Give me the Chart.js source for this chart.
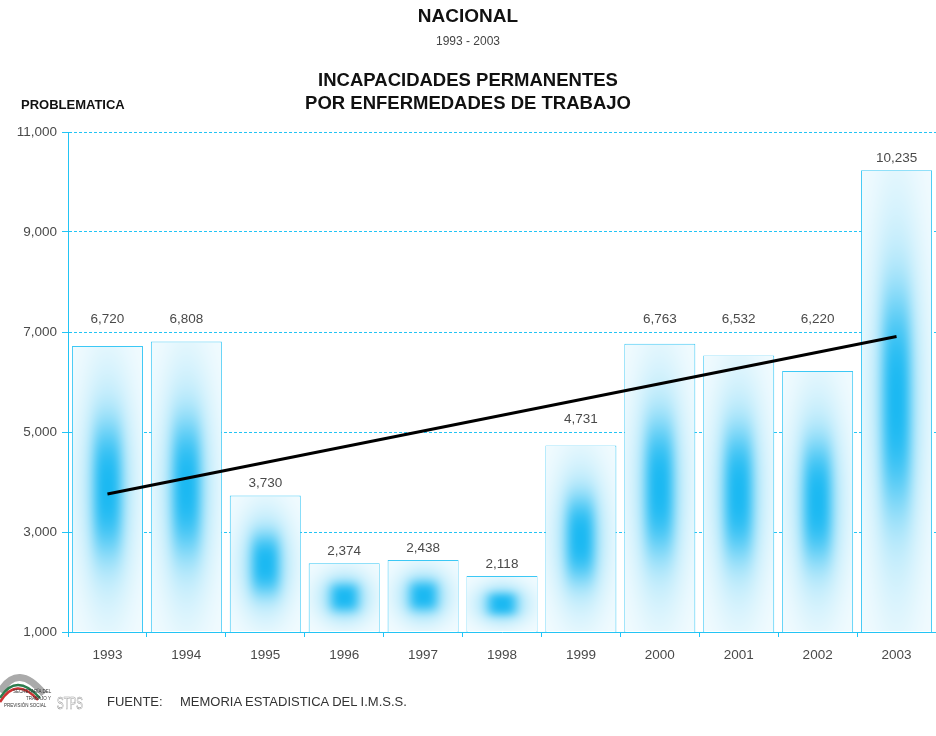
<!DOCTYPE html>
<html>
<head>
<meta charset="utf-8">
<script src="https://cdn.jsdelivr.net/npm/chart.js@4"></script>
<style>
  html, body { margin: 0; padding: 0; background: #fff; }
  body { width: 936px; height: 736px; position: relative; overflow: hidden; font-family: "Liberation Sans", Arial, sans-serif; }
  #c { position: absolute; left: 0; top: 0; }
  .t { position: absolute; white-space: nowrap; line-height: 1; }
</style>
</head>
<body>
<canvas id="c" width="936" height="736"></canvas>
<div class="t" style="left:0;width:936px;text-align:center;top:6px;font-size:19px;font-weight:bold;color:#111;">NACIONAL</div>
<div class="t" style="left:0;width:936px;text-align:center;top:35px;font-size:12px;color:#444;">1993 - 2003</div>
<div class="t" style="left:0;width:936px;text-align:center;top:68px;font-size:18.5px;font-weight:bold;color:#111;line-height:23px;">INCAPACIDADES PERMANENTES<br>POR ENFERMEDADES DE TRABAJO</div>
<div class="t" style="left:21px;top:98px;font-size:13px;font-weight:bold;color:#111;">PROBLEMATICA</div>
<div class="t" style="left:107px;top:695px;font-size:13px;color:#333;">FUENTE:</div>
<div class="t" style="left:180px;top:695px;font-size:13px;color:#333;">MEMORIA ESTADISTICA DEL I.M.S.S.</div>
<svg style="position:absolute;left:0;top:662px" width="90" height="74" viewBox="0 0 90 74">
  <path d="M0 30 Q18 0 44 32" stroke="#aaa" stroke-width="7" fill="none"/>
  <path d="M0 36 Q16 10 40 36" stroke="#2e7d4f" stroke-width="2.5" fill="none"/>
  <path d="M0 40 Q16 14 38 38" stroke="#c33" stroke-width="2.5" fill="none"/>
  <text x="13" y="31" font-size="4.5" fill="#333" font-family="Liberation Sans">SECRETARÍA DEL</text>
  <text x="26" y="38" font-size="4.5" fill="#333" font-family="Liberation Sans">TRABAJO Y</text>
  <text x="4" y="45" font-size="4.5" fill="#333" font-family="Liberation Sans">PREVISIÓN SOCIAL</text>
  <text x="57" y="47" font-size="17" fill="none" stroke="#999" stroke-width="0.6" font-family="Liberation Sans" textLength="26" lengthAdjust="spacingAndGlyphs">STPS</text>
</svg>
<script>
const years = ['1993','1994','1995','1996','1997','1998','1999','2000','2001','2002','2003'];
const values = [6720, 6808, 3730, 2374, 2438, 2118, 4731, 6763, 6532, 6220, 10235];
const trendYears = ['1993', '2003'];
const trendValues = [3760, 6910];
const yTicks = [1000, 3000, 5000, 7000, 9000, 11000];

const CYAN = '#22c4f5';
const fmt = v => v.toLocaleString('en-US');

const barFill = {
  id: 'barFill',
  afterDatasetDraw(chart, args) {
    if (args.index !== 0) return;
    const ctx = chart.ctx;
    const area = chart.chartArea;
    const wide = u => Math.exp(-(u / 0.75) * (u / 0.75));
    const core = u => Math.exp(-Math.pow(u / 0.45, 3));
    args.meta.data.forEach(el => {
      const l = Math.round(el.x - el.width / 2) + 1;
      const r = Math.round(el.x + el.width / 2) - 1;
      const t = Math.round(Math.min(el.y, el.base)) + 1;
      const b = Math.round(Math.min(Math.max(el.y, el.base), area.bottom)) - 1;
      const w = r - l, h = b - t;
      if (w <= 0 || h <= 0) return;
      const img = ctx.getImageData(l, t, w, h);
      const hw = w / 2, hh = h / 2;
      for (let j = 0; j < h; j++) {
        const uy = Math.abs(j + 0.5 - hh) / hh;
        const wy = wide(uy), cy = core(uy);
        for (let i = 0; i < w; i++) {
          const ux = Math.abs(i + 0.5 - hw) / hw;
          const a = Math.min(1, 0.05 + 0.45 * wide(ux) * wy + 0.5 * core(ux) * cy);
          const k = (j * w + i) * 4;
          img.data[k] = Math.round(255 - a * (255 - 28));
          img.data[k + 1] = Math.round(255 - a * (255 - 185));
          img.data[k + 2] = Math.round(255 - a * (255 - 242));
          img.data[k + 3] = 255;
        }
      }
      ctx.putImageData(img, l, t);
    });
  },
  afterDatasetsDraw(chart) {
    const ctx = chart.ctx;
    const ys = chart.scales.y;
    const area = chart.chartArea;
    const meta = chart.getDatasetMeta(0);
    ctx.save();
    ctx.font = '13.5px "Liberation Sans", Arial, sans-serif';
    ctx.fillStyle = '#4a4a4a';
    ctx.textAlign = 'center';
    ctx.textBaseline = 'middle';
    meta.data.forEach((el, i) => {
      const v = values[i];
      const top = el.y;
      let ly = top - 12;
      if (v > 4000) {
        yTicks.forEach(gv => {
          const gp = ys.getPixelForValue(gv);
          const dist = top - gp;
          if (dist >= 0 && dist <= 40 && gp - 13 > area.top) ly = gp - 13;
        });
      }
      ctx.fillText(fmt(v), el.x, ly);
    });
    ctx.restore();
  }
};

new Chart(document.getElementById('c'), {
  data: {
    labels: years,
    datasets: [
      {
        type: 'bar',
        data: values,
        backgroundColor: '#ffffff',
        borderColor: '#3cc8f5',
        borderWidth: 1,
        barPercentage: 0.9,
        categoryPercentage: 1.0,
        order: 1
      },
      {
        type: 'line',
        data: trendYears.map((y, i) => ({ x: y, y: trendValues[i] })),
        borderColor: '#000',
        borderWidth: 3,
        pointRadius: 0,
        fill: false,
        order: 0
      }
    ]
  },
  options: {
    responsive: false,
    animation: false,
    events: [],
    layout: { padding: { top: 132, right: 0, bottom: 0, left: 0 } },
    plugins: { legend: { display: false }, tooltip: { enabled: false }, title: { display: false } },
    scales: {
      x: {
        offset: true,
        grid: { display: true, drawOnChartArea: false, drawTicks: true, tickLength: 5, color: CYAN, offset: true },
        border: { display: true, color: CYAN, dash: [3, 2] },
        ticks: { color: '#4a4a4a', font: { family: '"Liberation Sans", Arial, sans-serif', size: 13.5 }, padding: 10, maxRotation: 0 },
        afterFit: s => { s.height = 104; }
      },
      y: {
        min: 1000,
        max: 11000,
        afterBuildTicks: s => { s.ticks = yTicks.map(v => ({ value: v })); },
        grid: { color: CYAN, lineWidth: 1, tickLength: 6 },
        border: { display: true, color: CYAN, dash: [3, 2] },
        ticks: { color: '#4a4a4a', font: { family: '"Liberation Sans", Arial, sans-serif', size: 13.5 }, padding: 5, callback: v => fmt(v) },
        afterFit: s => { s.width = 68; }
      }
    }
  },
  plugins: [barFill]
});
</script>
</body>
</html>
